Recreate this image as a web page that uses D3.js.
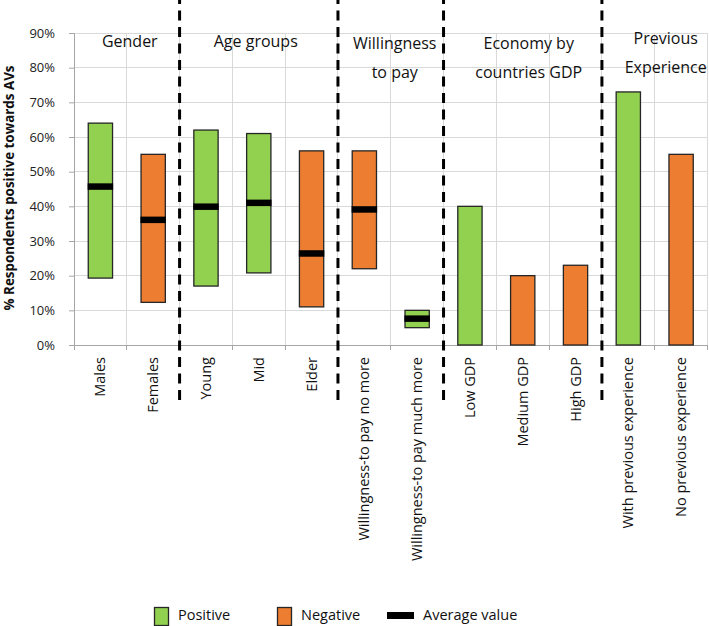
<!DOCTYPE html>
<html>
<head>
<meta charset="utf-8">
<script src="https://cdn.jsdelivr.net/npm/d3@7/dist/d3.min.js"></script>
<style>
  html, body { margin: 0; padding: 0; background: #fff; }
  svg { display: block; font-family: "Open Sans", "Noto Sans", sans-serif; }
</style>
</head>
<body>
<svg id="chart" width="709" height="626"></svg>
<script>
// ---------------- data ----------------
const categories = ["Males", "Females", "Young", "Mid", "Elder",
  "Willingness-to pay no more", "Willingness-to pay much more",
  "Low GDP", "Medium GDP", "High GDP",
  "With previous experience", "No previous experience"];
const lowValues  = [19.3, 12.3, 17.0, 20.8, 11.0, 22.0, 5.0, 0, 0, 0, 0, 0];
const highValues = [64.0, 55.0, 62.0, 61.0, 56.0, 56.0, 10.0, 40.0, 20.0, 23.0, 73.0, 55.0];
const averageValues = [45.7, 36.1, 39.9, 41.0, 26.4, 39.1, 7.6, null, null, null, null, null];
const sentiment = ["Positive", "Negative", "Positive", "Positive", "Negative", "Negative",
  "Positive", "Positive", "Negative", "Negative", "Positive", "Negative"];
const groupLabels = [["Gender"], ["Age groups"], ["Willingness", "to pay"],
  ["Economy by", "countries GDP"], ["Previous", "Experience"]];
const groupStart = [0, 2, 5, 7, 10];
const groupEnd = [2, 5, 7, 10, 12];
const yTicks = [0, 10, 20, 30, 40, 50, 60, 70, 80, 90];
const legendItems = ["Positive", "Negative", "Average value"];

// ---------------- layout ----------------
const W = 709, H = 626;
const plot = { left: 74, right: 707.5, top: 33, bottom: 345 };
const colors = { Positive: "#92D050", Negative: "#ED7D31" };
const groupLabelNudge = [[3, 0], [-3, 0], [4, 2.5], [6, 2.5], [11, -2.5]];

const svg = d3.select("#chart");

const x = d3.scaleBand().domain(categories).range([plot.left, plot.right]).padding(0);
const y = d3.scaleLinear().domain([0, 90]).range([plot.bottom, plot.top]);
const step = x.step();
const boundary = i => plot.left + i * step;
const barW = step * 0.46;

// horizontal gridlines
svg.append("g").selectAll("line").data(yTicks.filter(d => d > 0)).join("line")
  .attr("x1", plot.left).attr("x2", plot.right)
  .attr("y1", d => y(d)).attr("y2", d => y(d))
  .attr("stroke", "#d9d9d9").attr("stroke-width", 1).attr("shape-rendering", "crispEdges");

// vertical gridlines at category boundaries
svg.append("g").selectAll("line").data(d3.range(1, categories.length + 1)).join("line")
  .attr("x1", d => boundary(d)).attr("x2", d => boundary(d))
  .attr("y1", plot.top).attr("y2", plot.bottom)
  .attr("stroke", "#d9d9d9").attr("stroke-width", 1).attr("shape-rendering", "crispEdges");

// y axis
const yAxis = svg.append("g").attr("transform", `translate(${plot.left},0)`)
  .call(d3.axisLeft(y).tickValues(yTicks).tickFormat(d => d + "%").tickSize(5).tickPadding(14));
yAxis.select(".domain").attr("stroke", "#a6a6a6");
yAxis.selectAll(".tick line").attr("stroke", "#a6a6a6");
yAxis.selectAll("text").attr("font-size", 13).attr("fill", "#222")
  .attr("font-family", "'Open Sans', sans-serif");

// x axis line + boundary ticks
svg.append("line").attr("x1", plot.left).attr("x2", plot.right)
  .attr("y1", plot.bottom).attr("y2", plot.bottom)
  .attr("stroke", "#a6a6a6").attr("stroke-width", 1).attr("shape-rendering", "crispEdges");
svg.append("g").selectAll("line").data(d3.range(0, categories.length + 1)).join("line")
  .attr("x1", d => boundary(d)).attr("x2", d => boundary(d))
  .attr("y1", plot.bottom).attr("y2", plot.bottom + 5)
  .attr("stroke", "#a6a6a6").attr("stroke-width", 1).attr("shape-rendering", "crispEdges");

// x labels
svg.append("g").selectAll("text").data(categories).join("text")
  .attr("transform", d => `translate(${x(d) + x.bandwidth() / 2},357) rotate(-90)`)
  .attr("text-anchor", "end").attr("dy", "0.35em")
  .attr("font-size", 14.5).attr("fill", "#111")
  .text(d => d);

// bars
svg.append("g").selectAll("rect").data(categories).join("rect")
  .attr("x", d => x(d) + x.bandwidth() / 2 - barW / 2)
  .attr("width", barW)
  .attr("y", (d, i) => y(highValues[i]))
  .attr("height", (d, i) => y(lowValues[i]) - y(highValues[i]))
  .attr("fill", (d, i) => colors[sentiment[i]])
  .attr("stroke", "#262626").attr("stroke-width", 1.3);

// average markers
svg.append("g").selectAll("line")
  .data(categories.map((c, i) => ({ c, v: averageValues[i] })).filter(d => d.v != null))
  .join("line")
  .attr("x1", d => x(d.c) + x.bandwidth() / 2 - barW / 2 - 0.6)
  .attr("x2", d => x(d.c) + x.bandwidth() / 2 + barW / 2 + 0.6)
  .attr("y1", d => y(d.v)).attr("y2", d => y(d.v))
  .attr("stroke", "#000").attr("stroke-width", 6.5);

// dashed group separators
svg.append("g").selectAll("line").data(groupStart.slice(1)).join("line")
  .attr("x1", d => boundary(d)).attr("x2", d => boundary(d))
  .attr("y1", 400).attr("y2", 0)
  .attr("stroke", "#000").attr("stroke-width", 3)
  .attr("stroke-dasharray", "10,6.5");

// group labels
const gl = svg.append("g").selectAll("text").data(groupLabels).join("text")
  .attr("text-anchor", "middle").attr("font-size", 16).attr("fill", "#111")
  .attr("x", (d, i) => (boundary(groupStart[i]) + boundary(groupEnd[i])) / 2 + groupLabelNudge[i][0])
  .attr("y", (d, i) => 46.5 + groupLabelNudge[i][1]);
gl.selectAll("tspan").data(d => d).join("tspan")
  .attr("x", function () { return d3.select(this.parentNode).attr("x"); })
  .attr("dy", (d, j) => j === 0 ? 0 : 29)
  .text(d => d);

// y-axis title
svg.append("text")
  .attr("transform", `translate(14,188) rotate(-90)`)
  .attr("text-anchor", "middle")
  .attr("font-size", 13.4).attr("font-weight", "bold").attr("fill", "#111")
  .text("% Respondents positive towards AVs");

// legend
const legendX = [154, 277, 387];
const lg = svg.append("g").selectAll("g").data(legendItems).join("g")
  .attr("transform", (d, i) => `translate(${legendX[i]},0)`);
lg.each(function (d) {
  const g = d3.select(this);
  if (d === "Average value") {
    g.append("rect").attr("x", 0).attr("y", 612).attr("width", 27).attr("height", 7).attr("fill", "#000");
    g.append("text").attr("x", 36).attr("y", 620).attr("font-size", 14.5).attr("fill", "#111").text(d);
  } else {
    g.append("rect").attr("x", 0.5).attr("y", 607.5).attr("width", 14).attr("height", 18)
      .attr("fill", colors[d]).attr("stroke", "#262626").attr("stroke-width", 1.3);
    g.append("text").attr("x", 24).attr("y", 620).attr("font-size", 14.5).attr("fill", "#111").text(d);
  }
});
</script>
</body>
</html>
